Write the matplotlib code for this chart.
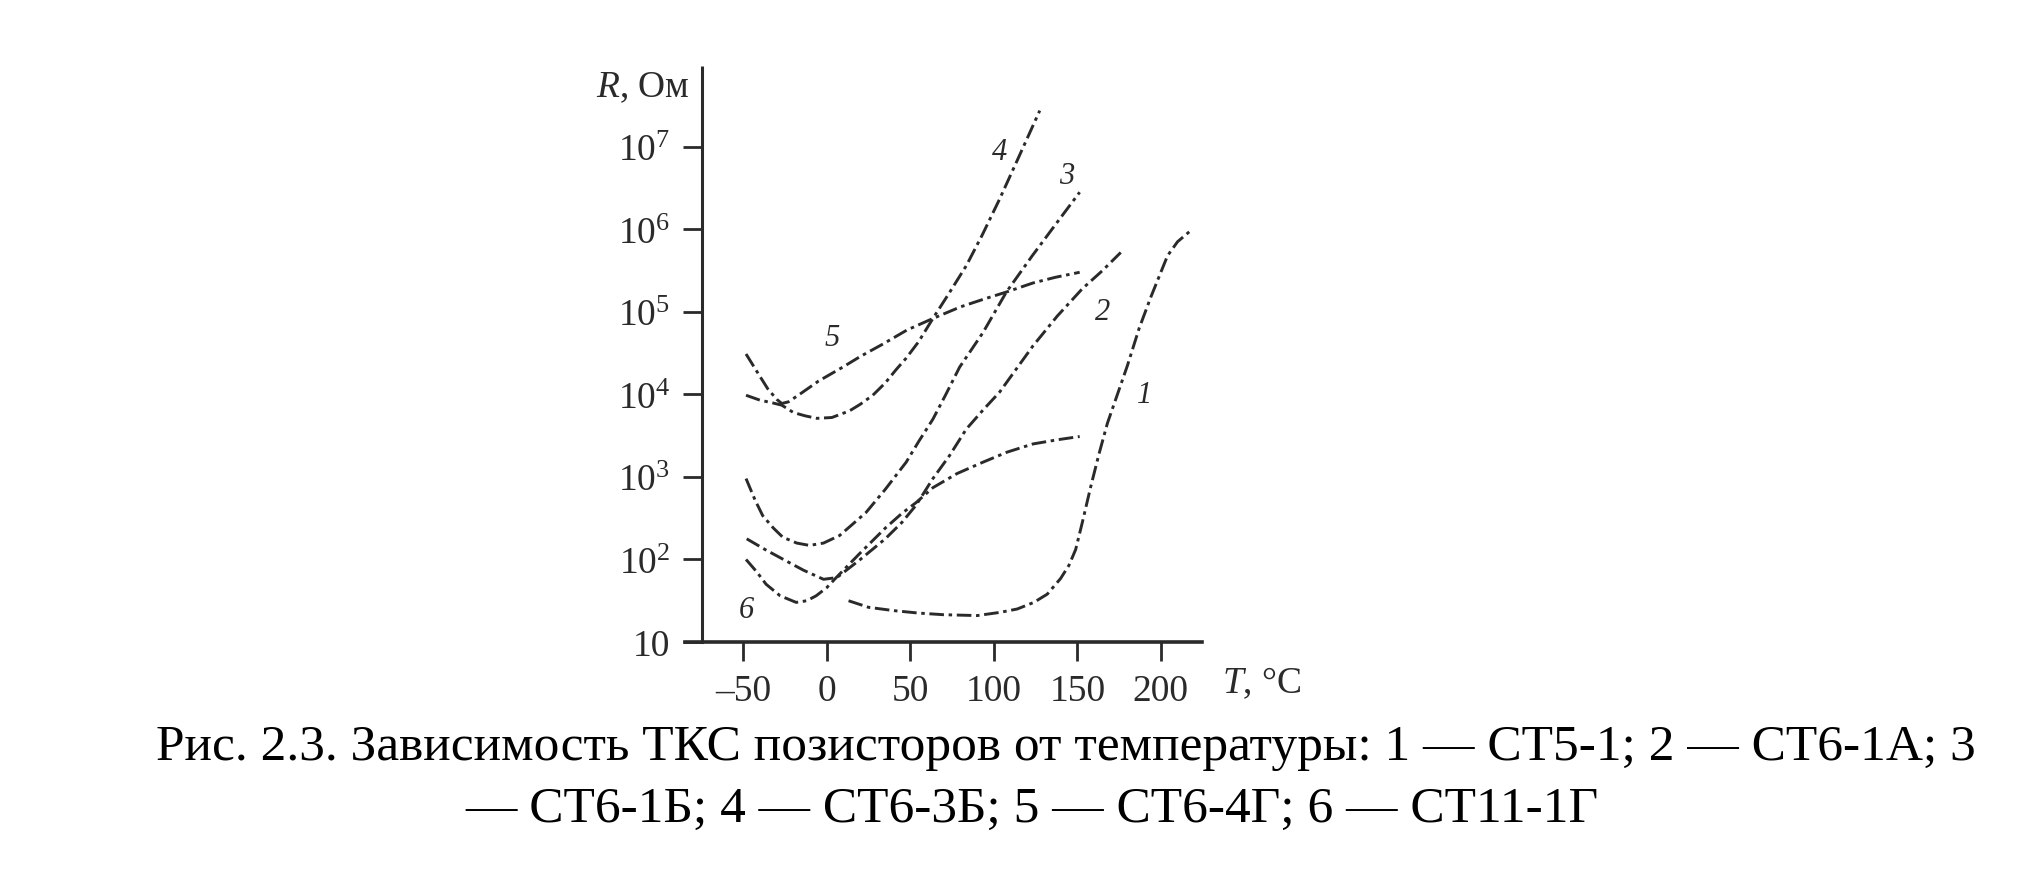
import matplotlib
matplotlib.use("Agg")
import matplotlib.pyplot as plt
from matplotlib.ticker import FixedLocator, NullLocator

plt.rcParams['font.family'] = ['Liberation Serif', 'DejaVu Serif']
plt.rcParams['mathtext.fontset'] = 'custom'
plt.rcParams['mathtext.rm'] = 'Liberation Serif'
plt.rcParams['mathtext.it'] = 'Liberation Serif:italic'

###############################################################
# Данные (T в °C, R в Ом)

# 1 - СТ5-1
t1 = [13, 25, 40, 55, 70, 90, 104, 114, 124, 132, 140, 145, 149, 153, 158,
      163, 168, 174, 180, 187, 194, 204, 210, 217]
r1 = [31.6, 26.3, 24.0, 22.4, 21.4, 20.9, 22.9, 25.1, 30.2, 38.0, 58.9, 85.1,
      132, 282, 759, 1910, 4470, 1.0e4, 2.24e4, 6.31e4, 1.51e5, 4.79e5,
      7.08e5, 9.33e5]

# 2 - СТ6-1А
t2 = [-48, -37, -26, -14, -2, 6, 20, 35, 45, 53.5, 63.5, 73.5, 83.5, 93.5,
      103.5, 113.5, 123.5, 138, 153, 165, 176]
r2 = [178, 132, 100, 74.1, 57.5, 60.3, 100, 178, 282, 457, 955, 1820, 3800,
      6460, 1.07e4, 2.04e4, 3.89e4, 8.91e4, 1.91e5, 3.16e5, 5.25e5]

# 3 - СТ6-1Б
t3 = [-48.4, -43, -38.4, -32, -26.4, -18, -10.4, -2, 7.6, 15, 23.5, 35, 47.5,
      55, 63.5, 71, 79.5, 93.5, 107.5, 123, 137, 151.4]
r3 = [955, 525, 339, 240, 186, 158, 148, 158, 195, 263, 372, 708, 1510, 2690,
      5010, 9770, 2.14e4, 5.62e4, 1.74e5, 4.79e5, 1.15e6, 2.82e6]

# 4 - СТ6-3Б
t4 = [-48.4, -40, -33, -27, -20, -13, -6, 3, 13.5, 20, 27.5, 35, 41.5, 47.5,
      55, 63.5, 73, 83.5, 93, 103.5, 115, 127.5]
r4 = [9770, 8510, 7940, 7410, 6030, 5500, 5130, 5250, 6310, 7590, 9770,
      1.38e4, 2.0e4, 2.75e4, 4.37e4, 8.32e4, 1.66e5, 3.63e5, 8.51e5, 2.34e6,
      7.59e6, 2.75e7]

# 5 - СТ6-4Г
t5 = [-48.4, -42, -35.4, -30, -27, -23, -16.4, -5, 9.5, 20, 33.5, 48, 63.5,
      80, 95, 107.5, 123.4, 137, 151.4]
r5 = [3.09e4, 1.91e4, 1.17e4, 8710, 7760, 8130, 1.0e4, 1.45e4, 2.14e4,
      2.88e4, 4.07e4, 6.03e4, 8.32e4, 1.15e5, 1.45e5, 1.74e5, 2.24e5,
      2.63e5, 3.02e5]

# 6 - СТ11-1Г
t6 = [-48.4, -42, -36.4, -28, -18.4, -12, -6.4, 0, 5.6, 20, 35, 45, 53.5,
      63.5, 78, 93.5, 108, 123.4, 138, 151.4]
r6 = [100, 70.8, 50.1, 36.3, 30.2, 31.6, 36.3, 45.7, 60.3, 120, 240, 363,
      490, 741, 1100, 1510, 2000, 2510, 2820, 3090]

curves = [(t1, r1), (t2, r2), (t3, r3), (t4, r4), (t5, r5), (t6, r6)]
curve_names = ["1", "2", "3", "4", "5", "6"]

x_ticks = [-50, 0, 50, 100, 150, 200]
x_tick_labels = ["\u201350", "0", "50", "100", "150", "200"]
y_ticks = [1e1, 1e2, 1e3, 1e4, 1e5, 1e6, 1e7]
y_tick_labels = ["10", "$10^2$", "$10^3$", "$10^4$", "$10^5$", "$10^6$", "$10^7$"]

caption_1 = ("Рис. 2.3. Зависимость ТКС позисторов от температуры: "
             "1 \u2014 СТ5-1; 2 \u2014 СТ6-1А; 3")
caption_2 = "\u2014 СТ6-1Б; 4 \u2014 СТ6-3Б; 5 \u2014 СТ6-4Г; 6 \u2014 СТ11-1Г"

###############################################################

ink = "#2a2a2a"

fig = plt.figure(figsize=(20.33, 8.79), dpi=100)
ax = fig.add_axes([0.3369, 0.2685, 0.2543, 0.6553])

for t, r in curves:
    ax.plot(t, r, color=ink, lw=2.1, ls=(0, (5, 1.6, 1.2, 1.6)))

# номера кривых
label_pos = {"1": (190, 1.0e4), "2": (165, 1.0e5), "3": (143.5, 4.5e6),
             "4": (103.5, 8.7e6), "5": (3, 4.9e4), "6": (-48.4, 25)}
for name in curve_names:
    x, y = label_pos[name]
    ax.text(x, y, name, fontsize=22, style="italic", color=ink,
            ha="center", va="center")

ax.set_yscale("log")
ax.set_xlim(-85, 224.6)
ax.set_ylim(10, 10 ** 7.98)

ax.yaxis.set_major_locator(FixedLocator(y_ticks))
ax.yaxis.set_minor_locator(NullLocator())
ax.set_yticklabels(y_tick_labels)
ax.set_xticks(x_ticks)
ax.set_xticklabels(x_tick_labels)

ax.spines["top"].set_visible(False)
ax.spines["right"].set_visible(False)
ax.spines["left"].set_position(("data", -74.6))
ax.spines["left"].set_linewidth(2.2)
ax.spines["left"].set_linestyle((0, (2, 1)))
ax.spines["bottom"].set_linewidth(2.6)
for s in ("left", "bottom"):
    ax.spines[s].set_color(ink)

ax.tick_params(axis="both", direction="out", length=14, width=2, color=ink,
               labelsize=27, labelcolor=ink, pad=9)

fig.text(690 / 2033, 1 - 88 / 879, "$R$, Ом", fontsize=27, color=ink,
         ha="right", va="center")
fig.text(1222 / 2033, 1 - 683 / 879, "$T$, °С", fontsize=27, color=ink,
         ha="left", va="center")

fig.text(1066 / 2033, 1 - 760 / 879, caption_1, fontsize=37,
         color="black", ha="center", va="baseline")
fig.text(1032 / 2033, 1 - 822 / 879, caption_2, fontsize=37,
         color="black", ha="center", va="baseline")

fig.savefig("out.png", dpi=100, facecolor="white")
